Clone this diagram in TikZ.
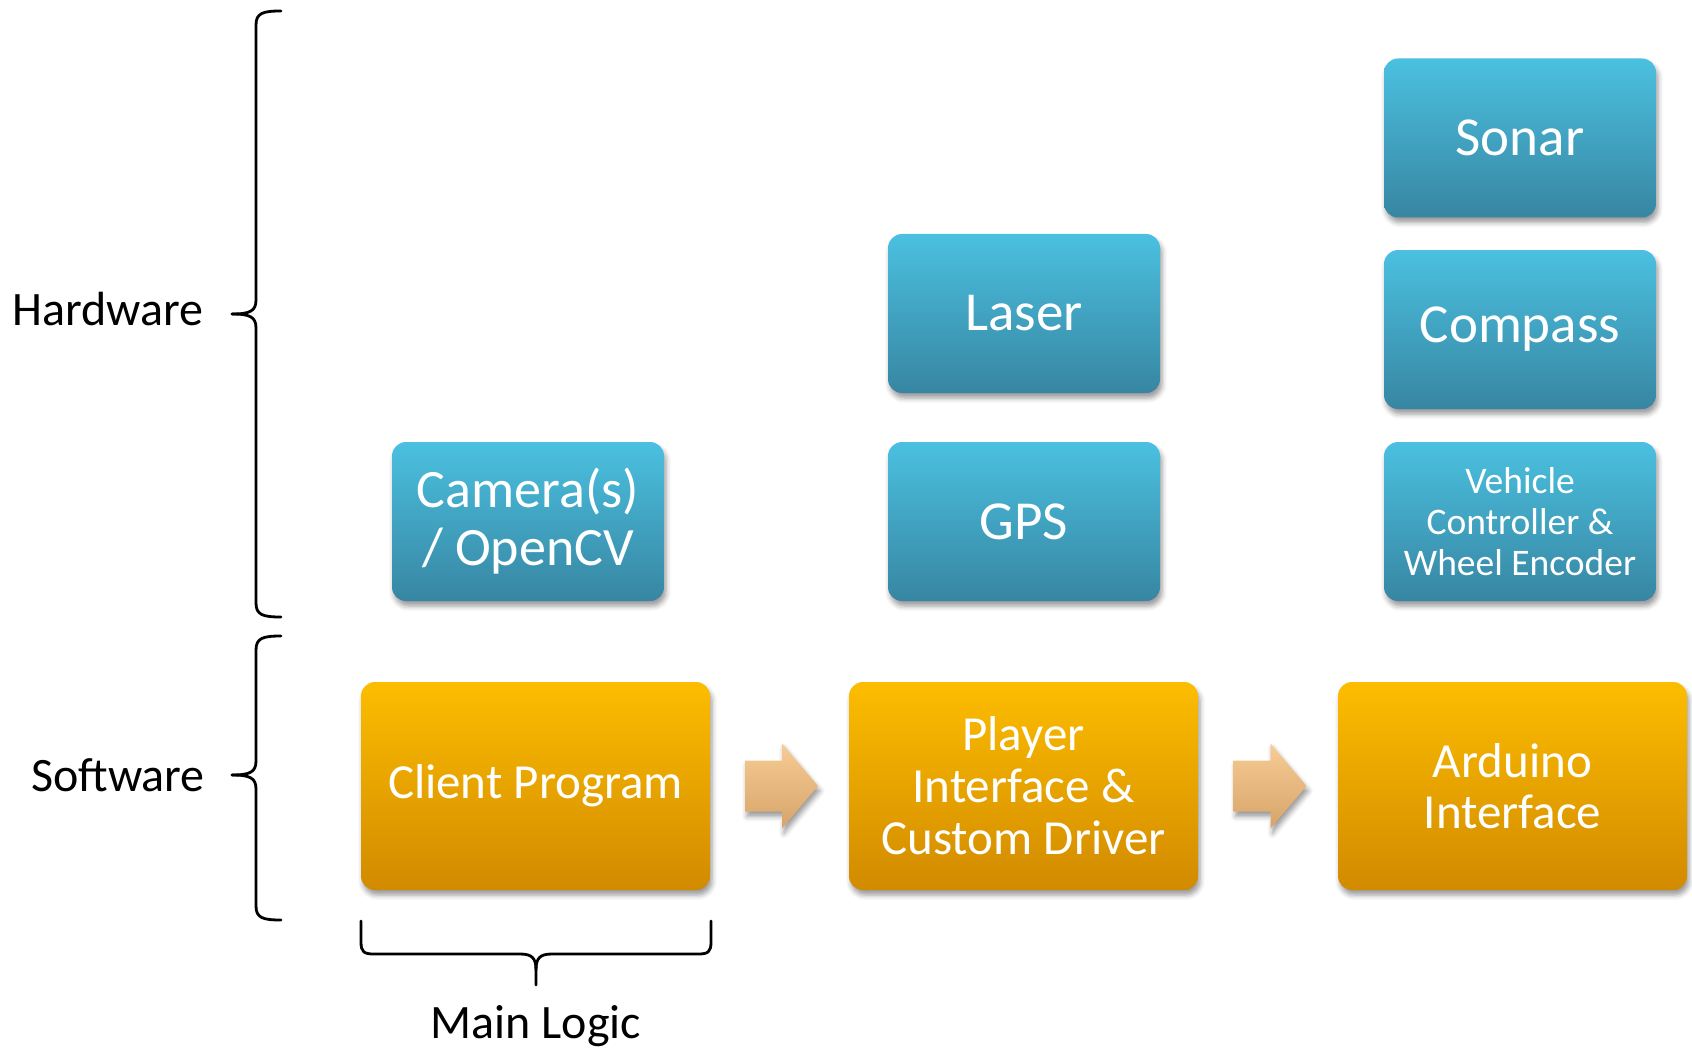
\documentclass[tikz,border=0pt]{standalone}
\usepackage{fontspec}
\setmainfont{Carlito}
\usetikzlibrary{shadows.blur,calc}
\definecolor{bluetop}{RGB}{75,192,224}
\definecolor{bluebot}{RGB}{55,134,162}
\definecolor{orgtop}{RGB}{252,189,0}
\definecolor{orgbot}{RGB}{210,138,0}
\definecolor{arrtop}{RGB}{247,204,148}
\definecolor{arrbot}{RGB}{214,164,106}
\begin{document}
\begin{tikzpicture}[x=1pt,y=1pt,
  myshadow/.style={blur shadow={shadow xshift=2pt,shadow yshift=-5pt,shadow blur radius=5pt,shadow opacity=40}},
  boxbase/.style={rounded corners=14pt, text=white, align=center, inner sep=0pt, myshadow},
  hwbox/.style={boxbase, top color=bluetop, bottom color=bluebot, minimum width=272pt, minimum height=159pt, font=\fontsize{55}{59}\selectfont},
  swbox/.style={boxbase, top color=orgtop, bottom color=orgbot, minimum width=349pt, minimum height=208pt, font=\fontsize{49}{52}\selectfont},
  lbl/.style={font=\fontsize{48}{52}\selectfont, text=black, inner sep=0pt},
  bracepath/.style={line width=2.8pt, line join=round, line cap=round, black},
  flowarrow/.style={top color=arrtop, bottom color=arrbot, myshadow}]
\useasboundingbox (0,0) rectangle (1692,-1051);

% hardware boxes
\node[hwbox] (sonar) at (1520,-138) {Sonar};
\node[hwbox] (compass) at (1520,-329.5) {Compass};
\node[hwbox, font=\fontsize{37.5}{41}\selectfont] (vehicle) at (1520,-521.5) {Vehicle\\Controller \&\\Wheel Encoder};
\node[hwbox] (laser) at (1024,-313.5) {Laser};
\node[hwbox] (gps) at (1024,-521.5) {GPS};
\node[hwbox, font=\fontsize{54}{58}\selectfont] (camera) at (528,-521.5) {Camera(s)\\/ OpenCV};

% software boxes
\node[swbox] (client) at (535.5,-786) {Client Program};
\node[swbox] (player) at (1023.5,-786) {Player\\Interface \&\\Custom Driver};
\node[swbox, font=\fontsize{49}{51}\selectfont] (arduino) at (1512.5,-786) {Arduino\\Interface};

% block arrows
\coordinate (m1) at ($(client.east)!0.5!(player.west)$);
\coordinate (m2) at ($(player.east)!0.5!(arduino.west)$);
\shade[flowarrow] ($(m1)+(-34.5,25.5)$) -- ++(37,0) -- ++(0,17) -- ++(36,-42.5) -- ++(-36,-42.5) -- ++(0,17) -- ++(-37,0) -- cycle;
\shade[flowarrow] ($(m2)+(-34.5,25.5)$) -- ++(37,0) -- ++(0,17) -- ++(36,-42.5) -- ++(-36,-42.5) -- ++(0,17) -- ++(-37,0) -- cycle;

% labels
\node[lbl] (hw) at (108,-309) {Hardware};
\node[lbl] (sw) at (118,-775) {Software};
\node[lbl] (ml) at (536,-1026) {Main Logic};

% hardware brace
\draw[bracepath] (281,-11) .. controls (263,-11) and (256,-13) .. (256,-25) -- (256,-300) .. controls (256,-311) and (250,-314) .. (232,-314);
\draw[bracepath] (281,-617) .. controls (263,-617) and (256,-615) .. (256,-603) -- (256,-328) .. controls (256,-317) and (250,-314) .. (232,-314);

% software brace
\draw[bracepath] (281,-636) .. controls (263,-636) and (256,-638) .. (256,-650) -- (256,-761) .. controls (256,-772) and (250,-775) .. (232,-775);
\draw[bracepath] (281,-920) .. controls (263,-920) and (256,-918) .. (256,-906) -- (256,-789) .. controls (256,-778) and (250,-775) .. (232,-775);

% main logic brace
\draw[bracepath] (361,-921) -- (361,-942) .. controls (361,-952) and (364,-954) .. (374,-954) -- (520,-954) .. controls (532,-954) and (536,-958) .. (536,-970) -- (536,-985);
\draw[bracepath] (711,-921) -- (711,-942) .. controls (711,-952) and (708,-954) .. (698,-954) -- (552,-954) .. controls (540,-954) and (536,-958) .. (536,-970);
\end{tikzpicture}
\end{document}
